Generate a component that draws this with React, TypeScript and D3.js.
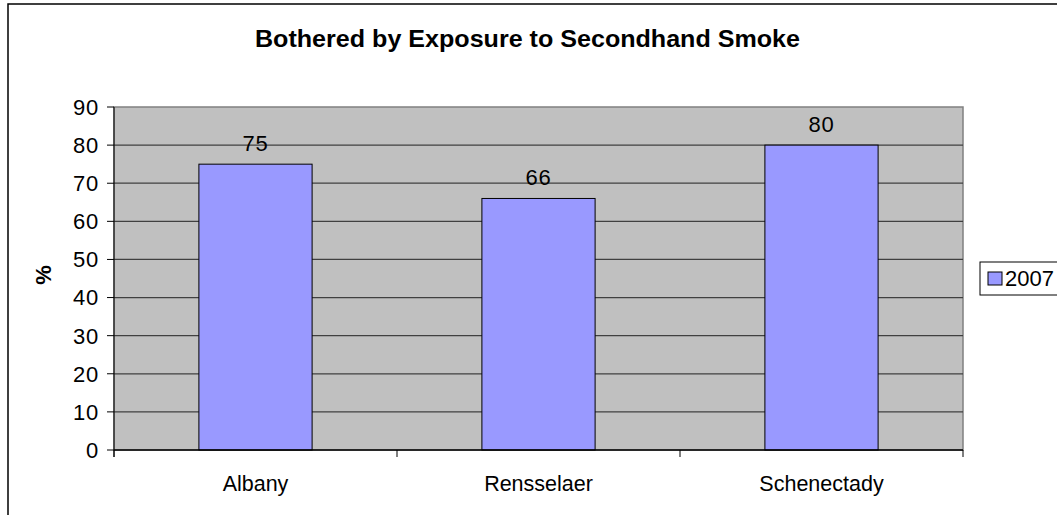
import React from "react";
import * as d3 from "d3";

const categories = ["Albany", "Rensselaer", "Schenectady"];
const values2007 = [75, 66, 80];
const yTicks = [0, 10, 20, 30, 40, 50, 60, 70, 80, 90];
const seriesName = "2007";
const title = "Bothered by Exposure to Secondhand Smoke";
const yLabel = "%";

const W = 1057;
const H = 515;
const plot = { left: 114, right: 963, top: 107, bottom: 450 };
const FONT = "Arial, 'Liberation Sans', Helvetica, sans-serif";

export default function App() {
  const x = d3
    .scaleBand<string>()
    .domain(categories)
    .range([plot.left, plot.right])
    .paddingInner(0.6)
    .paddingOuter(0.3);
  const xOuter = d3.scaleBand<string>().domain(categories).range([plot.left, plot.right]);
  const y = d3.scaleLinear().domain([0, 90]).range([plot.bottom, plot.top]);
  const boundaries = [plot.left, ...categories.map((c) => (xOuter(c) as number) + xOuter.bandwidth())];

  return (
    <svg
      width={W}
      height={H}
      style={{ position: "absolute", left: 0, top: 0, display: "block", background: "#fff" }}
      fontFamily={FONT}
    >
      <rect x={8} y={4} width={1200} height={700} fill="#fff" stroke="#000" strokeWidth={1.5} />
      <text
        x={255}
        y={47}
        fontSize={23}
        fontWeight="bold"
        fill="#000"
        textLength={545}
        lengthAdjust="spacingAndGlyphs"
      >
        {title}
      </text>
      {/* plot area */}
      <rect
        x={plot.left}
        y={plot.top}
        width={plot.right - plot.left}
        height={plot.bottom - plot.top}
        fill="#c0c0c0"
        stroke="#808080"
        strokeWidth={1.5}
      />
      {yTicks
        .filter((t) => t > 0 && t < 90)
        .map((t) => (
          <line key={t} x1={plot.left} x2={plot.right} y1={y(t)} y2={y(t)} stroke="#404040" strokeWidth={1.3} />
        ))}
      {/* bars */}
      {categories.map((c, i) => (
        <g key={c}>
          <rect
            x={x(c)}
            y={y(values2007[i])}
            width={x.bandwidth()}
            height={y(0) - y(values2007[i])}
            fill="#9999ff"
            stroke="#000"
            strokeWidth={1}
          />
          <text
            x={(x(c) as number) + x.bandwidth() / 2}
            y={y(values2007[i]) - 13}
            textAnchor="middle"
            fontSize={22}
            letterSpacing={0.8}
            fill="#000"
          >
            {values2007[i]}
          </text>
        </g>
      ))}
      {/* axes */}
      <line x1={plot.left} x2={plot.left} y1={plot.top} y2={plot.bottom + 7} stroke="#000" strokeWidth={1} />
      <line x1={plot.left} x2={plot.right} y1={plot.bottom} y2={plot.bottom} stroke="#000" strokeWidth={1.5} />
      {yTicks.map((t) => (
        <g key={t}>
          <line x1={plot.left - 7} x2={plot.left} y1={y(t)} y2={y(t)} stroke="#000" strokeWidth={1} />
          <text x={plot.left - 15} y={y(t)} dy="0.36em" textAnchor="end" fontSize={22} letterSpacing={0.8} fill="#000">
            {t}
          </text>
        </g>
      ))}
      {boundaries.map((b, i) => (
        <line key={i} x1={b} x2={b} y1={plot.bottom} y2={plot.bottom + 7} stroke="#000" strokeWidth={1} />
      ))}
      {categories.map((c) => (
        <text
          key={c}
          x={(xOuter(c) as number) + xOuter.bandwidth() / 2}
          y={491}
          textAnchor="middle"
          fontSize={21.5}
          fill="#000"
        >
          {c}
        </text>
      ))}
      <text
        transform={`translate(51, 275) rotate(-90)`}
        textAnchor="middle"
        fontSize={22}
        fontWeight="bold"
        fill="#000"
      >
        {yLabel}
      </text>
      {/* legend */}
      <rect x={980} y={262} width={100} height={33} fill="#fff" stroke="#000" strokeWidth={1} />
      <rect x={988} y={272} width={14} height={13} fill="#9999ff" stroke="#000" strokeWidth={1} />
      <text x={1005} y={286} fontSize={22} fill="#000">
        {seriesName}
      </text>
    </svg>
  );
}
